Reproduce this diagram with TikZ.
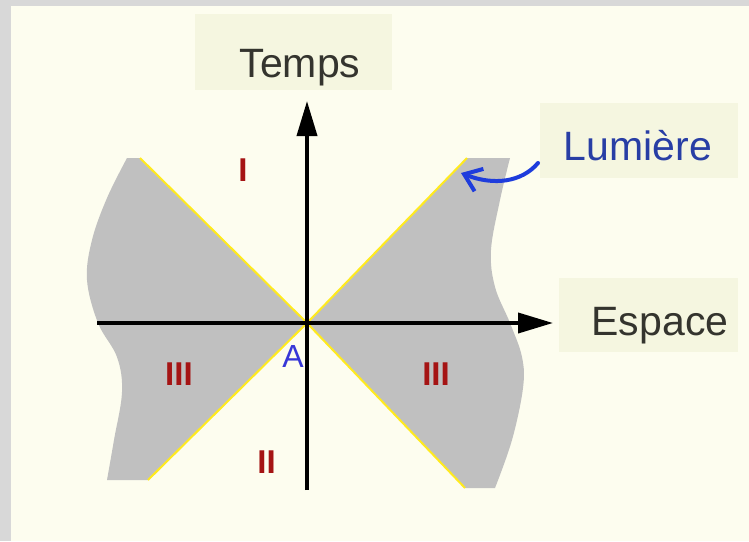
\documentclass[tikz,border=0pt]{standalone}
\usepackage{fontspec}
\setmainfont{Liberation Sans}
\usetikzlibrary{arrows.meta}
\definecolor{bg}{RGB}{253,253,239}
\definecolor{framec}{RGB}{216,216,216}
\definecolor{boxbg}{RGB}{245,246,224}
\definecolor{conec}{RGB}{192,192,192}
\definecolor{lightc}{RGB}{255,234,30}
\definecolor{txtc}{RGB}{52,52,46}
\definecolor{lumtxt}{RGB}{40,62,165}
\definecolor{lumarrow}{RGB}{30,60,220}
\definecolor{regred}{RGB}{165,20,20}
\definecolor{ablue}{RGB}{55,55,215}
\begin{document}
\begin{tikzpicture}[x=1pt,y=-1pt,
  labelbox/.style={fill=boxbg, draw=none, inner sep=0pt},
  lbl/.style={font=\fontsize{41}{48}\selectfont, text=txtc, inner sep=0pt, anchor=base},
  reg/.style={font=\fontsize{33}{38}\selectfont\bfseries, text=regred, inner sep=0pt, anchor=base},
  lightline/.style={draw=lightc, line width=2pt},
  axisline/.style={draw=black, line width=3.8pt, -{Triangle[length=35pt,width=20pt]}},
  lumline/.style={draw=lumarrow, line width=4pt, line cap=round, -{Straight Barb[length=16pt,width=24pt]}}]
\fill[framec] (0,0) rectangle (749,541);
\fill[bg] (11,6) rectangle (749,541);
\useasboundingbox (0,0) rectangle (749,541);

% label boxes
\node[labelbox, minimum width=197pt, minimum height=76pt] (tempsbox) at (293.5,52) {};
\node[labelbox, minimum width=198pt, minimum height=75pt] (lumbox) at (639,140.5) {};
\node[labelbox, minimum width=179pt, minimum height=74pt] (espbox) at (648.5,315) {};

\node[lbl] (temps) at (300,77) {Temps};
\node[lbl, text=lumtxt] (lum) at (638,160) {Lumière};
\node[lbl] (esp) at (660,335) {Espace};

% key points
\coordinate (A0) at (307,323);
\coordinate (ul) at (140,158);
\coordinate (ur) at (467,158);
\coordinate (ll) at (148,480);
\coordinate (lr) at (465,488);

% grey regions
\fill[conec] (A0) -- (ul) -- plot[smooth, tension=0.6] coordinates {(127,158) (107,198) (92,240) (87,280) (98,323) (117,357) (122,392) (114,440) (107,480)} -- (ll) -- cycle;
\fill[conec] (A0) -- (ur) -- plot[smooth, tension=0.6] coordinates {(510,158) (500,200) (491,250) (495,287) (510,323) (522,357) (523,388) (512,440) (495,488)} -- (lr) -- cycle;

% light lines
\draw[lightline] (ul) -- (A0) -- (lr);
\draw[lightline] (ll) -- (A0) -- (ur);

% axes
\coordinate (xs) at (97,323);
\coordinate (xe) at (553,323);
\coordinate (ys) at (307,490);
\coordinate (ye) at (307,101);
\draw[axisline] (xs) -- (xe);
\draw[axisline] (ys) -- (ye);

% labels
\node[font=\fontsize{32}{36}\selectfont, text=ablue, inner sep=0pt, anchor=base] (alabel) at (293,367) {A};
\node[reg] (r1) at (243,181) {I};
\node[reg] (r2) at (266.5,473) {II};
\node[reg] (r3l) at (179,385) {III};
\node[reg] (r3r) at (436,385) {III};

% Lumiere arrow
\coordinate (lumstart) at (538,163);
\coordinate (lumtip) at (461,173);
\draw[lumline] (lumstart) .. controls (522,182) and (494,186) .. (lumtip);
\end{tikzpicture}
\end{document}
